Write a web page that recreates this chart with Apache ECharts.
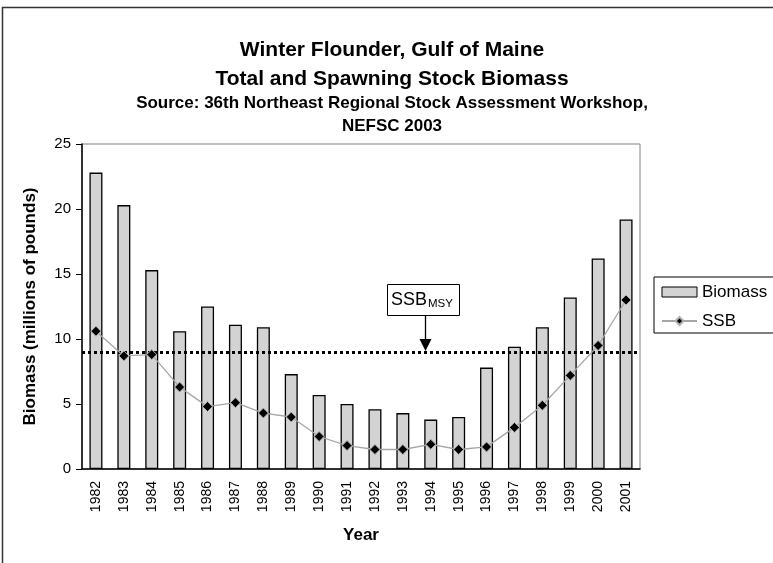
<!DOCTYPE html>
<html>
<head>
<meta charset="utf-8">
<script src="https://cdn.jsdelivr.net/npm/echarts@6/dist/echarts.min.js"></script>
<style>
  html, body { margin: 0; padding: 0; background: #fff; }
  #chart { width: 773px; height: 563px; }
</style>
</head>
<body>
<div id="chart"></div>
<script>
// data
const years = ['1982', '1983', '1984', '1985', '1986', '1987', '1988', '1989', '1990', '1991',
  '1992', '1993', '1994', '1995', '1996', '1997', '1998', '1999', '2000', '2001']
const biomass = [22.8, 20.3, 15.3, 10.6, 12.5, 11.1, 10.9, 7.3, 5.7, 5.0,
  4.6, 4.3, 3.8, 4.0, 7.8, 9.4, 10.9, 13.2, 16.2, 19.2]
const ssb = [10.6, 8.7, 8.8, 6.3, 4.8, 5.1, 4.3, 4.0, 2.5, 1.8,
  1.5, 1.5, 1.9, 1.5, 1.7, 3.2, 4.9, 7.2, 9.5, 13.0]
const ssbMsy = 9.0
const yTicks = [0, 5, 10, 15, 20, 25]

const font = 'Arial, "Liberation Sans", sans-serif'
const chart = echarts.init(document.getElementById('chart'))

// one title entry per line, so each line can be placed on its own
function titleLine(text, top, size, lh) {
  return {
    text, left: 387, top, textAlign: 'center',
    textStyle: { fontSize: size, fontWeight: 'bold', lineHeight: lh, color: '#000', fontFamily: font },
  }
}

chart.setOption({
  animation: false,
  backgroundColor: '#fff',
  textStyle: { fontFamily: font, color: '#000' },
  title: [
    titleLine('Winter Flounder, Gulf of Maine', 32, 21, 26),
    titleLine('Total and Spawning Stock Biomass', 61, 21, 26),
    titleLine('Source: 36th Northeast Regional Stock Assessment Workshop,', 87, 17, 22),
    titleLine('NEFSC 2003', 110, 17, 22),
  ],
  legend: {
    orient: 'vertical',
    left: 654, top: 277,
    padding: [6, 30, 3, 7],
    itemGap: 11,
    itemWidth: 35, itemHeight: 10,
    borderColor: '#000', borderWidth: 1,
    backgroundColor: '#fff',
    textStyle: { fontSize: 17, lineHeight: 18, color: '#000', fontFamily: font },
    data: [
      { name: 'Biomass', icon: 'rect', itemStyle: { borderWidth: 1 } },
      { name: 'SSB' },
    ],
  },
  grid: {
    left: 82, right: 133, top: 144, bottom: 94,
    show: true, borderColor: '#808080', borderWidth: 1,
  },
  xAxis: {
    type: 'category',
    data: years,
    name: 'Year',
    nameLocation: 'middle',
    nameGap: 58,
    nameTextStyle: { fontSize: 17, fontWeight: 'bold', color: '#000' },
    axisLine: { lineStyle: { color: '#000', width: 1.5 } },
    axisTick: { interval: 0, length: 6, lineStyle: { color: '#000' } },
    axisLabel: { interval: 0, rotate: 90, fontSize: 14, color: '#000', margin: 12 },
  },
  yAxis: {
    type: 'value',
    min: yTicks[0], max: yTicks[yTicks.length - 1], interval: 5,
    name: 'Biomass (millions of pounds)',
    nameLocation: 'middle',
    nameGap: 43,
    nameTextStyle: { fontSize: 17, fontWeight: 'bold', color: '#000' },
    axisLine: { show: true, lineStyle: { color: '#000', width: 1.5 } },
    axisTick: { show: true, length: 6, lineStyle: { color: '#000' } },
    axisLabel: { fontSize: 15, color: '#000', margin: 11 },
    splitLine: { show: false },
  },
  series: [
    {
      name: 'Biomass',
      type: 'bar',
      data: biomass,
      barWidth: 13,
      itemStyle: { color: '#d3d3d3', borderColor: '#000', borderWidth: 1.3 },
      markLine: {
        silent: true,
        symbol: 'none',
        label: { show: false },
        lineStyle: { color: '#000', type: [3, 3], width: 3 },
        data: [{ yAxis: ssbMsy }],
      },
    },
    {
      name: 'SSB',
      type: 'line',
      data: ssb,
      symbol: 'diamond',
      symbolSize: 10,
      lineStyle: { color: '#a6a6a6', width: 1.3 },
      itemStyle: { color: '#000', borderColor: '#b0b0b0', borderWidth: 1 },
      z: 5,
    },
  ],
  graphic: [
    // outer chart frame
    { type: 'rect', shape: { x: 2.5, y: 7.5, width: 800, height: 600 },
      style: { fill: 'none', stroke: '#333', lineWidth: 1.5 }, silent: true },
    // SSB_MSY label box
    { type: 'rect', shape: { x: 387.5, y: 284.5, width: 72, height: 31 },
      style: { fill: '#fff', stroke: '#000', lineWidth: 1 }, z: 10 },
    { type: 'text', x: 391, y: 300, z: 11,
      style: { text: 'SSB', font: '18px ' + font, fill: '#000', textVerticalAlign: 'middle' } },
    { type: 'text', x: 428, y: 304, z: 11,
      style: { text: 'MSY', font: '11.5px ' + font, fill: '#000', textVerticalAlign: 'middle' } },
    // arrow to the SSB_MSY line
    { type: 'line', shape: { x1: 425.5, y1: 315, x2: 425.5, y2: 342 },
      style: { stroke: '#000', lineWidth: 1.3 }, z: 10 },
    { type: 'polygon', shape: { points: [[419.5, 339], [431.5, 339], [425.5, 351]] },
      style: { fill: '#000' }, z: 10 },
  ],
})
</script>
</body>
</html>
